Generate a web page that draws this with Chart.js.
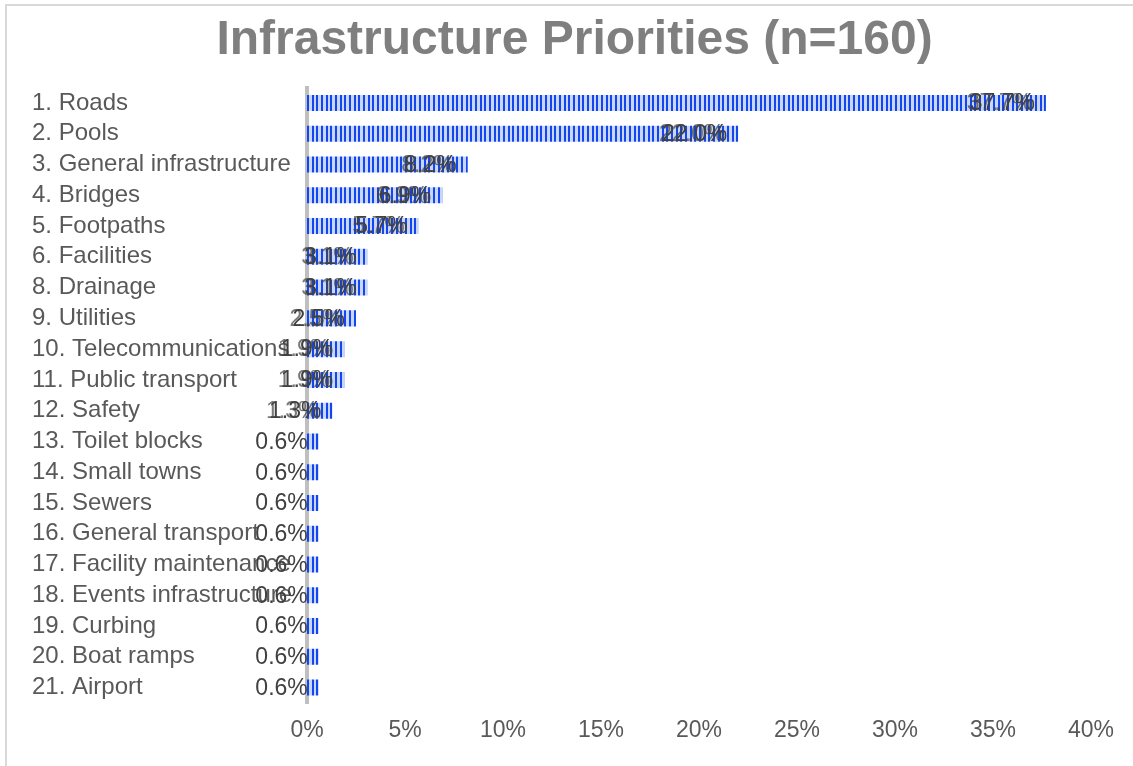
<!DOCTYPE html>
<html>
<head>
<meta charset="utf-8">
<script src="https://cdn.jsdelivr.net/npm/chart.js@4/dist/chart.umd.min.js"></script>
<style>
  html, body { margin: 0; padding: 0; background: #ffffff; overflow: hidden; }
  #wrap { position: relative; width: 1133px; height: 766px; }
  #frame { position: absolute; left: 5px; top: 4px; width: 1200px; height: 800px;
           border-left: 2px solid #d9d9d9; border-top: 2px solid #d9d9d9; pointer-events: none; }
  canvas { position: absolute; left: 0; top: 0; }
</style>
</head>
<body>
<div id="wrap">
  <canvas id="chart" width="1133" height="766"></canvas>
  <div id="frame"></div>
</div>
<script>
// Survey categories (as numbered in the questionnaire) and share of responses, in %
const categories = [
  "1. Roads", "2. Pools", "3. General infrastructure", "4. Bridges", "5. Footpaths",
  "6. Facilities", "8. Drainage", "9. Utilities", "10. Telecommunications",
  "11. Public transport", "12. Safety", "13. Toilet blocks", "14. Small towns",
  "15. Sewers", "16. General transport", "17. Facility maintenance",
  "18. Events infrastructure", "19. Curbing", "20. Boat ramps", "21. Airport"
];
const shares = [37.7, 22.0, 8.2, 6.9, 5.7, 3.1, 3.1, 2.5, 1.9, 1.9, 1.3,
                0.6, 0.6, 0.6, 0.6, 0.6, 0.6, 0.6, 0.6, 0.6];
const axisMin = 0;
const axisMax = 40;
const axisStep = 5;

const FONT = "'Liberation Sans', Arial, sans-serif";
const BLUE = "#1246f0";
const PALE = "#c9d6f6";

// Vertical stripe fill used for the bars
function makeStripes(ctx) {
  const c = document.createElement("canvas");
  c.width = 14; c.height = 4;
  const p = c.getContext("2d");
  p.fillStyle = PALE; p.fillRect(0, 0, 14, 4);
  p.fillStyle = BLUE;
  [0, 5, 9].forEach(x => p.fillRect(x, 0, 2, 4));
  return ctx.createPattern(c, "repeat");
}

const canvas = document.getElementById("chart");
const ctx = canvas.getContext("2d");
const stripes = makeStripes(ctx);

// Align the stripe pattern to the start of the bars
const stripeAnchor = {
  id: "stripeAnchor",
  beforeDatasetsDraw(chart) {
    stripes.setTransform(new DOMMatrix().translate(chart.chartArea.left, 0));
  }
};

// Centre the title on the framed area rather than on the padded layout box
const titleCentre = {
  id: "titleCentre",
  afterLayout(chart) {
    const t = chart.titleBlock;
    if (t) { t.left += 13; t.right += 13; }
  }
};

// Percentage labels drawn just inside the end of each bar
const valueLabels = {
  id: "valueLabels",
  afterDatasetsDraw(chart) {
    const c = chart.ctx;
    const meta = chart.getDatasetMeta(0);
    c.save();
    c.font = "23px " + FONT;
    c.textAlign = "right";
    c.textBaseline = "middle";
    meta.data.forEach((bar, i) => {
      const v = chart.data.datasets[0].data[i];
      const txt = v.toFixed(1) + "%";
      const x = bar.x - 11;
      if (v >= 1) {
        c.fillStyle = "rgba(64,64,64,0.7)";
        c.fillText(txt, x - 3, bar.y + 1);
      }
      c.fillStyle = "#404040";
      c.fillText(txt, x, bar.y + 1);
    });
    c.restore();
  }
};

new Chart(ctx, {
  type: "bar",
  data: {
    labels: categories,
    datasets: [{
      data: shares,
      backgroundColor: stripes,
      borderWidth: 0,
      barPercentage: 0.52,
      categoryPercentage: 1.0
    }]
  },
  options: {
    indexAxis: "y",
    responsive: false,
    animation: false,
    devicePixelRatio: 1,
    layout: { padding: { left: 32, right: 42, top: 12, bottom: 23 } },
    plugins: {
      legend: { display: false },
      tooltip: { enabled: false },
      title: {
        display: true,
        text: "Infrastructure Priorities (n=160)",
        color: "#7f7f7f",
        font: { family: FONT, size: 48, weight: "bold", lineHeight: 1.2 },
        padding: { top: 0, bottom: 18 }
      }
    },
    scales: {
      x: {
        min: axisMin,
        max: axisMax,
        grid: { display: false },
        border: { display: false },
        afterFit(scale) { scale.height = 40; },
        ticks: {
          stepSize: axisStep,
          padding: 6,
          color: "#595959",
          font: { family: FONT, size: 23 },
          callback: v => v + "%",
          maxRotation: 0
        }
      },
      y: {
        grid: { display: false },
        border: { display: true, color: "#bfbfbf", width: 4 },
        afterFit(scale) { scale.width = 275; },
        ticks: {
          crossAlign: "far",
          color: "#595959",
          font: { family: FONT, size: 24 },
          autoSkip: false
        }
      }
    }
  },
  plugins: [stripeAnchor, titleCentre, valueLabels]
});
</script>
</body>
</html>
